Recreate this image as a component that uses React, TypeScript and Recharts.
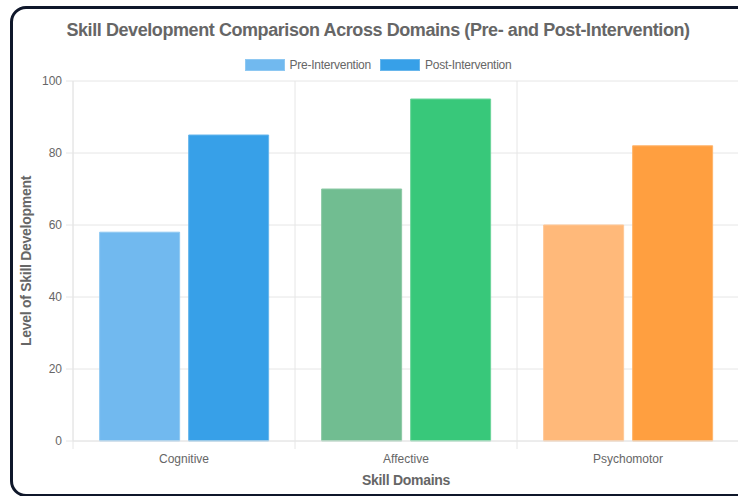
import React from "react";
import {
  BarChart,
  Bar,
  XAxis,
  YAxis,
  CartesianGrid,
  Cell,
} from "recharts";

const domains = ["Cognitive", "Affective", "Psychomotor"];
const preValues = [58, 70, 60];
const postValues = [85, 95, 82];
const yTicks = [0, 20, 40, 60, 80, 100];

// per-domain fills: [pre, post]
const preColors = ["#71b9ef", "#71bd91", "#ffb97a"];
const postColors = ["#37a0e8", "#38c87a", "#ff9f40"];
const preBorders = ["#8ec8f2", "#8cc9a5", "#ffc795"];
const postBorders = ["#67b6ec", "#6bd49a", "#ffb46b"];

const seriesLabels = ["Pre-Intervention", "Post-Intervention"];

const FONT = '"Liberation Sans", Arial, Helvetica, sans-serif';
const TEXT = "#666666";
const GRID = "#e6e6e6";

const data = domains.map((d, i) => ({
  domain: d,
  pre: preValues[i],
  post: postValues[i],
}));

function DomainTick(props: any) {
  const { x, y, payload, width, index } = props;
  const half = width / (2 * domains.length);
  return (
    <g>
      <line x1={x - half} x2={x - half} y1={y - 8} y2={y} stroke={GRID} />
      {index === domains.length - 1 && (
        <line x1={x + half} x2={x + half} y1={y - 8} y2={y} stroke={GRID} />
      )}
      <text
        x={x}
        y={y + 14}
        textAnchor="middle"
        fontSize={12}
        fill={TEXT}
        fontFamily={FONT}
      >
        {payload.value}
      </text>
    </g>
  );
}

export default function App() {
  return (
    <div
      style={{
        position: "fixed",
        inset: 0,
        overflow: "hidden",
        background: "#ffffff",
        fontFamily: FONT,
      }}
    >
      {/* card frame */}
      <div
        style={{
          position: "absolute",
          left: 10,
          top: 6,
          width: 740,
          height: 485,
          border: "3px solid #0f172a",
          borderRadius: 16,
        }}
      />

      <div
        style={{
          position: "absolute",
          left: 18,
          top: 19,
          width: 720,
          textAlign: "center",
          fontSize: 18,
          fontWeight: 700,
          letterSpacing: -0.42,
          color: TEXT,
          lineHeight: "22px",
        }}
      >
        Skill Development Comparison Across Domains (Pre- and Post-Intervention)
      </div>

      {/* legend */}
      <div
        style={{
          position: "absolute",
          left: 18,
          top: 57,
          width: 720,
          display: "flex",
          justifyContent: "center",
          gap: 9,
          fontSize: 12,
          letterSpacing: -0.25,
          color: TEXT,
          lineHeight: "16px",
        }}
      >
        {seriesLabels.map((label, i) => (
          <div key={label} style={{ display: "flex", alignItems: "center", gap: 5 }}>
            <span
              style={{
                display: "inline-block",
                width: 40,
                height: 12,
                boxSizing: "border-box",
                background: i === 0 ? preColors[0] : postColors[0],
                border: `1px solid ${i === 0 ? preBorders[0] : postBorders[0]}`,
              }}
            />
            <span>{label}</span>
          </div>
        ))}
      </div>

      <div style={{ position: "absolute", left: 0, top: 0 }}>
        <BarChart
          width={760}
          height={496}
          data={data}
          margin={{ top: 81, right: 21, left: 0, bottom: 0 }}
          barCategoryGap="12%"
          barGap={9}
        >
          <CartesianGrid
            stroke={GRID}
            verticalCoordinatesGenerator={({ offset }: any) =>
              domains
                .map((_, i) => offset.left + (i * offset.width) / domains.length)
                .concat([offset.left + offset.width])
            }
          />
          <XAxis
            dataKey="domain"
            height={55}
            axisLine={{ stroke: GRID }}
            tickLine={false}
            tick={<DomainTick />}
            interval={0}
            label={{
              value: "Skill Domains",
              position: "center",
              dy: 12,
              fill: TEXT,
              fontSize: 14,
              fontWeight: 700,
              letterSpacing: -0.28,
              fontFamily: FONT,
            }}
          />
          <YAxis
            width={73}
            domain={[0, 100]}
            ticks={yTicks}
            axisLine={{ stroke: GRID }}
            tickLine={{ stroke: GRID }}
            tickSize={7}
            tickMargin={4}
            tick={{ fill: TEXT, fontSize: 12, fontFamily: FONT }}
            label={{
              value: "Level of Skill Development",
              angle: -90,
              position: "center",
              dx: -10,
              fill: TEXT,
              fontSize: 14,
              fontWeight: 700,
              letterSpacing: -0.28,
              fontFamily: FONT,
            }}
          />
          <Bar dataKey="pre" name={seriesLabels[0]} isAnimationActive={false}>
            {data.map((d, i) => (
              <Cell key={d.domain} fill={preColors[i]} stroke={preBorders[i]} strokeWidth={1} />
            ))}
          </Bar>
          <Bar dataKey="post" name={seriesLabels[1]} isAnimationActive={false}>
            {data.map((d, i) => (
              <Cell key={d.domain} fill={postColors[i]} stroke={postBorders[i]} strokeWidth={1} />
            ))}
          </Bar>
        </BarChart>
      </div>
    </div>
  );
}
